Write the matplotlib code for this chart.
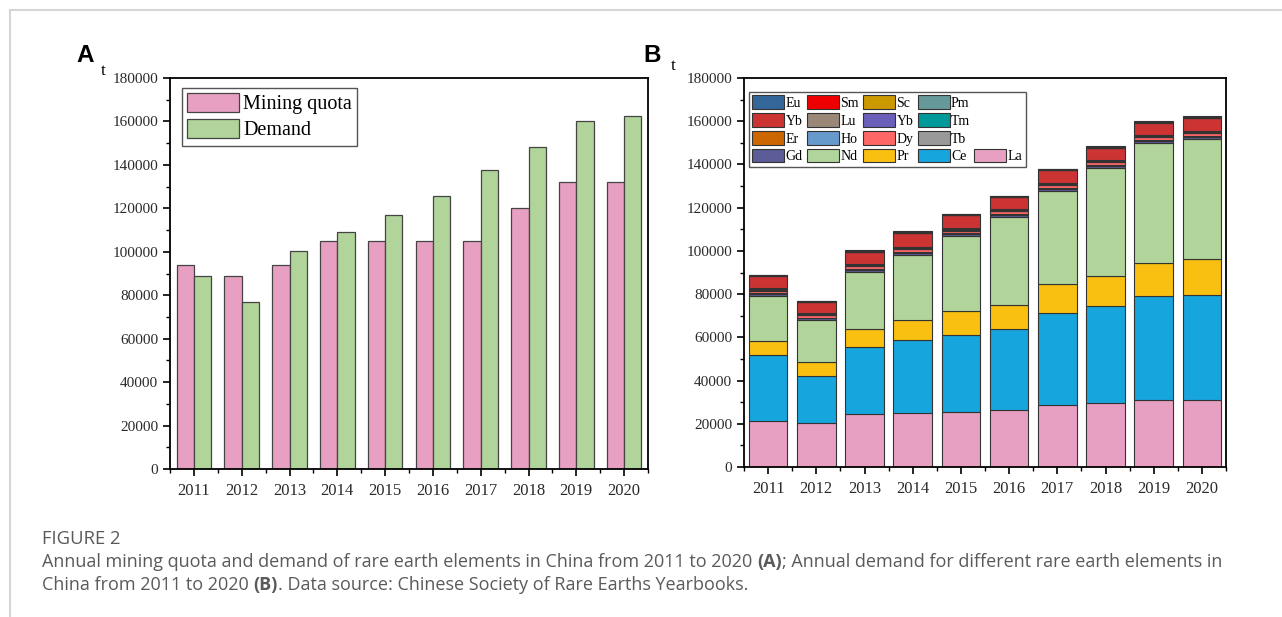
import numpy as np
import matplotlib
matplotlib.use("Agg")
import matplotlib.pyplot as plt
from matplotlib.patches import Patch
from matplotlib.lines import Line2D
from matplotlib.ticker import MultipleLocator

# annual mining quota and demand (t)
years = [2011, 2012, 2013, 2014, 2015, 2016, 2017, 2018, 2019, 2020]
quota = [93800, 88900, 93800, 105000, 105000, 105000, 105000, 120000, 132000, 132000]
demand = [89000, 76800, 100200, 109000, 117000, 125500, 137800, 148300, 160000, 162300]

# demand by element (t), bottom of the stack first
la = [21400, 20200, 24400, 25100, 25600, 26500, 28700, 29500, 31000, 31200]
ce = [30400, 21800, 31300, 33700, 35600, 37200, 42700, 45000, 48100, 48400]
pr = [6700, 6600, 8000, 9200, 10800, 11100, 13100, 14000, 15200, 16500]
nd = [20600, 19400, 26700, 30200, 34900, 41000, 43400, 50000, 55500, 55700]
gd = [900, 800, 900, 1000, 900, 900, 900, 900, 1000, 1000]
tb = [300, 300, 300, 300, 300, 300, 300, 300, 300, 300]
dy = [1300, 1100, 1300, 1400, 1300, 1300, 1300, 1300, 1400, 1400]
ho = [200, 200, 200, 200, 200, 200, 200, 200, 200, 200]
er = [400, 400, 400, 400, 400, 400, 400, 400, 400, 400]
tm = [50, 50, 50, 50, 50, 50, 50, 50, 50, 50]
yb = [300, 300, 300, 300, 300, 300, 300, 300, 300, 300]
lu = [50, 50, 50, 50, 50, 50, 50, 50, 50, 50]
y_red = [5800, 5000, 5700, 6500, 6000, 5600, 5800, 5700, 5900, 6200]
pm = [20, 20, 20, 20, 20, 20, 20, 20, 20, 20]
sc = [50, 50, 50, 50, 50, 50, 50, 50, 50, 50]
sm = [400, 400, 400, 400, 400, 400, 400, 400, 400, 400]
eu = [150, 150, 150, 150, 150, 150, 150, 150, 150, 150]

stack = [
    ("La", la, "#e8a0c2"), ("Ce", ce, "#17a5de"), ("Pr", pr, "#f9c011"),
    ("Nd", nd, "#b0d49a"), ("Gd", gd, "#5c5c98"), ("Tb", tb, "#999999"),
    ("Dy", dy, "#ff6666"), ("Ho", ho, "#6699cc"), ("Er", er, "#cc6600"),
    ("Tm", tm, "#009999"), ("Yb", yb, "#6a5fbb"), ("Lu", lu, "#998877"),
    ("Yb", y_red, "#cc3333"), ("Pm", pm, "#669999"), ("Sc", sc, "#cc9900"),
    ("Sm", sm, "#ee0000"), ("Eu", eu, "#336699"),
]

serif = "Liberation Serif"
W, H = 1282, 617
fig = plt.figure(figsize=(W / 100, H / 100), dpi=100)


def px_axes(x0, y0, x1, y1):
    return fig.add_axes([x0 / W, 1 - y1 / H, (x1 - x0) / W, (y1 - y0) / H])


def style_axes(ax, lo, hi):
    for s in ax.spines.values():
        s.set_linewidth(1.3)
    ax.set_ylim(0, 180000)
    ax.set_xlim(lo, hi)
    ax.yaxis.set_major_locator(MultipleLocator(20000))
    ax.yaxis.set_minor_locator(MultipleLocator(10000))
    ax.set_xticks(range(len(years)))
    ax.set_xticks(np.arange(-0.5, 10, 1.0), minor=True)
    ax.set_xticklabels([str(y) for y in years])
    ax.tick_params(which="major", direction="out", length=5, width=1.2,
                   labelcolor="#2a2a2a")
    ax.tick_params(which="minor", direction="out", length=3, width=1.0)
    ax.tick_params(axis="y", labelsize=11)
    ax.tick_params(axis="x", labelsize=12, pad=5)
    for lab in ax.get_xticklabels() + ax.get_yticklabels():
        lab.set_fontfamily(serif)


x = np.arange(len(years))

# panel A
axA = px_axes(170, 78, 648, 469)
bw = 0.36
axA.bar(x - bw / 2, quota, bw, color="#e8a0c2", edgecolor="#444444", lw=0.9, label="Mining quota")
axA.bar(x + bw / 2, demand, bw, color="#b0d49a", edgecolor="#444444", lw=0.9, label="Demand")
style_axes(axA, -0.5, 9.5)
axA.legend(loc="upper left", bbox_to_anchor=(12 / 478, 1 - 10 / 391), borderaxespad=0,
           prop={"family": serif, "size": 14.5}, fancybox=False, framealpha=1,
           edgecolor="#555555", handlelength=2.6, handleheight=1.05,
           handletextpad=0.2, labelspacing=0.25, borderpad=0.25)

# panel B
axB = px_axes(744, 78, 1226, 467)
bottom = np.zeros(len(years))
bars = {}
for i, (name, vals, col) in enumerate(stack):
    bars[i] = axB.bar(x, vals, 0.8, bottom=bottom, color=col, edgecolor="#333333", lw=0.8)
    bottom += np.array(vals)
style_axes(axB, -0.45, 9.5)

blank = Patch(facecolor="none", edgecolor="none")
order = [16, 12, 8, 4, 15, 11, 7, 3, 14, 10, 6, 2, 13, 9, 5, 1, None, None, None, 0]
handles = [bars[i] if i is not None else blank for i in order]
labels = [stack[i][0] if i is not None else "" for i in order]
axB.legend(handles, labels, ncol=5, loc="upper left", bbox_to_anchor=(5 / 482, 1 - 14 / 389),
           borderaxespad=0, prop={"family": serif, "size": 10}, fancybox=False,
           framealpha=1, edgecolor="#555555", handlelength=2.3, handleheight=1.1,
           handletextpad=0.1, labelspacing=0.25, columnspacing=0.3, borderpad=0.25)

# unit marks and panel letters
fig.text(103 / W, 1 - 71 / H, "t", family=serif, fontsize=12.5, ha="center", va="center")
fig.text(673 / W, 1 - 66 / H, "t", family=serif, fontsize=12.5, ha="center", va="center")
fig.text(85 / W, 1 - 55 / H, "A", family="Liberation Sans", weight="bold", fontsize=17.5,
         ha="center", va="center")
fig.text(652 / W, 1 - 55 / H, "B", family="Liberation Sans", weight="bold", fontsize=17.5,
         ha="center", va="center")

# page frame
fig.add_artist(Line2D([10 / W, 1], [1 - 10 / H] * 2, transform=fig.transFigure, color="#d6d6d6", lw=1.5))
fig.add_artist(Line2D([10 / W] * 2, [0, 1 - 10 / H], transform=fig.transFigure, color="#d6d6d6", lw=1.5))

# caption
cap_font = "Open Sans"
cap_col = "#5a5a5a"
renderer = fig.canvas.get_renderer()


def caption_line(parts, x0, y0, size=13):
    xpos = x0 / W
    for text, weight in parts:
        t = fig.text(xpos, 1 - y0 / H, text, family=cap_font, weight=weight, fontsize=size,
                     color=cap_col, va="center", ha="left")
        bb = t.get_window_extent(renderer)
        xpos = bb.x1 / W


caption_line([("FIGURE 2", "normal")], 42, 539, size=13.3)
caption_line([("Annual mining quota and demand of rare earth elements in China from 2011 to 2020 ", "normal"),
              ("(A)", "bold"),
              ("; Annual demand for different rare earth elements in", "normal")], 42, 562)
caption_line([("China from 2011 to 2020 ", "normal"), ("(B)", "bold"),
              (". Data source: Chinese Society of Rare Earths Yearbooks.", "normal")], 42, 585)

fig.savefig("out.png", dpi=100)
